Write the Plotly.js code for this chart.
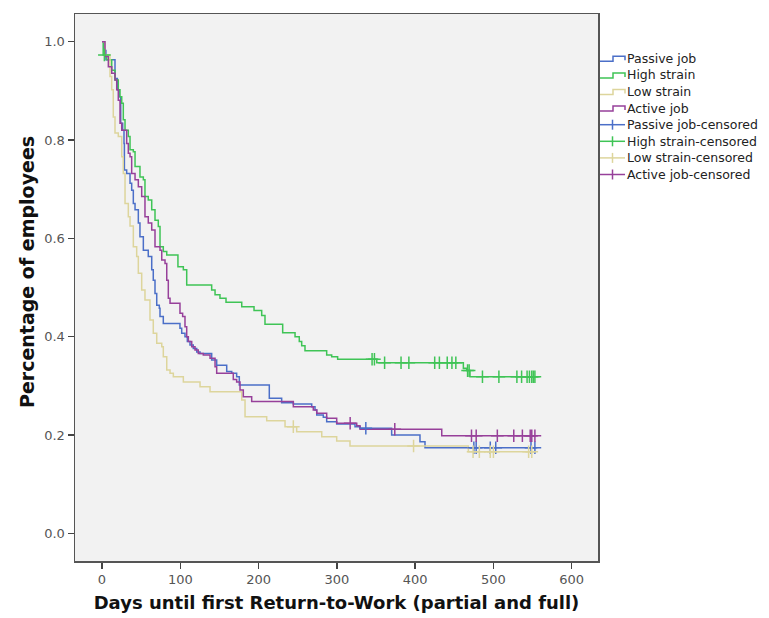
<!DOCTYPE html>
<html>
<head>
<meta charset="utf-8">
<script src="https://cdn.plot.ly/plotly-3.0.1.min.js"></script>
<style>
html,body{margin:0;padding:0;background:#ffffff;}
#chart{width:769px;height:618px;}
</style>
</head>
<body>
<div id="chart"></div>
<script>
// ---- Data ----
var groupNames = ["Passive job", "High strain", "Low strain", "Active job"];

var passiveDays = [0, 2.5, 5, 16.6, 19.6, 22, 23.9, 26.4, 28.1, 28.6, 31.5, 35.8, 37.9, 40, 42.2, 46.4, 48.5, 52.8, 59.1, 63.5, 65.5, 67.7, 69.9, 73.2, 74.1, 78.3, 99.6, 101.8, 106, 109, 112.4, 116.6, 121, 125.2, 140.1, 146.5, 159.3, 165.7, 172, 175.4, 213.7, 229.5, 244.4, 267.9, 272.1, 274.3, 282.7, 287, 299.8, 323.2, 329.6, 370, 406.2, 412.6, 553];
var passiveSurv = [1, 0.982, 0.963, 0.925, 0.902, 0.888, 0.834, 0.820, 0.793, 0.739, 0.732, 0.712, 0.698, 0.671, 0.658, 0.631, 0.603, 0.576, 0.563, 0.536, 0.515, 0.488, 0.464, 0.458, 0.441, 0.427, 0.417, 0.407, 0.400, 0.390, 0.383, 0.376, 0.369, 0.366, 0.3525, 0.342, 0.329, 0.3255, 0.3186, 0.3017, 0.2746, 0.2657, 0.263, 0.2575, 0.251, 0.2406, 0.236, 0.227, 0.2223, 0.2168, 0.2136, 0.200, 0.1863, 0.174, 0.174];
var passiveCensDays = [337, 475, 478, 496, 503, 548, 553];
var passiveCensSurv = [0.2136, 0.174, 0.174, 0.174, 0.174, 0.174, 0.174];

var highDays = [0, 1.5, 6, 12.4, 16.6, 20.8, 23, 25.2, 27.2, 29.4, 33.6, 35.8, 40, 42.2, 48.5, 52.8, 54.9, 59.1, 63.5, 67.7, 71.9, 74.1, 78.3, 82.7, 97, 103.9, 108.2, 140.1, 144.4, 150.7, 158.4, 178.5, 194.2, 204, 208.2, 230.8, 246.6, 252, 255.1, 259.3, 287, 293.4, 301, 351, 461.6, 465.9, 470.1, 553];
var highSurv = [1, 0.973, 0.963, 0.942, 0.922, 0.902, 0.888, 0.875, 0.841, 0.820, 0.807, 0.780, 0.776, 0.746, 0.725, 0.719, 0.685, 0.678, 0.658, 0.637, 0.624, 0.583, 0.573, 0.566, 0.542, 0.536, 0.505, 0.495, 0.485, 0.478, 0.470, 0.461, 0.453, 0.443, 0.425, 0.408, 0.400, 0.390, 0.3816, 0.3714, 0.3627, 0.359, 0.354, 0.347, 0.3356, 0.331, 0.3186, 0.3186];
var highCensDays = [3, 345, 348, 361, 382, 392, 425, 431, 441, 447, 452, 467, 469, 486, 507, 530, 536, 543, 546, 549, 551, 553];
var highCensSurv = [0.973, 0.354, 0.354, 0.347, 0.347, 0.347, 0.347, 0.347, 0.347, 0.347, 0.347, 0.331, 0.331, 0.3186, 0.3186, 0.3186, 0.3186, 0.3186, 0.3186, 0.3186, 0.3186, 0.3186];

var lowDays = [0, 3.8, 10.2, 12.4, 14.4, 16.6, 20.8, 25.2, 27.2, 29.4, 33.6, 35.8, 40, 44.3, 46.4, 50.7, 54.9, 61.3, 65.5, 69.9, 76.3, 78.3, 82.7, 86.9, 91.1, 103.9, 125.2, 138, 178.5, 182.7, 210.4, 233.8, 248.7, 280.7, 299.8, 316.8, 468, 553];
var lowSurv = [1, 0.973, 0.929, 0.902, 0.847, 0.814, 0.807, 0.766, 0.732, 0.671, 0.644, 0.625, 0.583, 0.563, 0.529, 0.495, 0.4746, 0.434, 0.407, 0.3865, 0.3796, 0.359, 0.332, 0.3255, 0.3186, 0.308, 0.298, 0.288, 0.271, 0.237, 0.229, 0.217, 0.2067, 0.1965, 0.188, 0.1776, 0.166, 0.166];
var lowCensDays = [244.4, 398, 474, 482, 496, 500, 545, 549];
var lowCensSurv = [0.217, 0.1776, 0.166, 0.166, 0.166, 0.166, 0.166, 0.166];

var activeDays = [0, 3.8, 8.1, 12.4, 16.6, 18.8, 20.8, 23, 25.2, 31.5, 33.6, 35.8, 37.9, 42.2, 46.4, 50.7, 54.9, 59.1, 63.5, 67.7, 74.1, 76.3, 80.5, 82.7, 84.7, 86.9, 99.6, 103, 106, 108.2, 110.3, 114.6, 118.8, 123, 129.4, 138, 144.4, 146.5, 167.7, 172, 176.3, 180.5, 191.2, 244.4, 269.9, 274.3, 287, 299.8, 325.4, 329.6, 434, 553];
var activeSurv = [1, 0.970, 0.949, 0.936, 0.922, 0.902, 0.881, 0.834, 0.820, 0.793, 0.773, 0.766, 0.732, 0.719, 0.705, 0.685, 0.644, 0.631, 0.617, 0.583, 0.576, 0.556, 0.549, 0.515, 0.478, 0.468, 0.4475, 0.441, 0.420, 0.400, 0.390, 0.3796, 0.373, 0.366, 0.3627, 0.356, 0.339, 0.3255, 0.313, 0.308, 0.2915, 0.278, 0.268, 0.2575, 0.251, 0.244, 0.234, 0.2238, 0.219, 0.2116, 0.1986, 0.1986];
var activeCensDays = [317, 374, 472, 478, 505, 526, 537, 547, 549, 553];
var activeCensSurv = [0.2238, 0.2116, 0.1986, 0.1986, 0.1986, 0.1986, 0.1986, 0.1986, 0.1986, 0.1986];

var xTickVals = [0, 100, 200, 300, 400, 500, 600];
var yTickVals = [0, 0.2, 0.4, 0.6, 0.8, 1.0];

// ---- Styles ----
var colors = ["#4b6fc8", "#3fc456", "#ddd59c", "#97409a"];
var lineDays = [passiveDays, highDays, lowDays, activeDays];
var lineSurv = [passiveSurv, highSurv, lowSurv, activeSurv];
var censDays = [passiveCensDays, highCensDays, lowCensDays, activeCensDays];
var censSurv = [passiveCensSurv, highCensSurv, lowCensSurv, activeCensSurv];

var traces = [];
for (var i = 0; i < 4; i++) {
  traces.push({
    type: "scatter", mode: "lines", name: groupNames[i],
    x: lineDays[i], y: lineSurv[i],
    line: {shape: "hv", color: colors[i], width: 1.5},
    hoverinfo: "skip"
  });
}
for (var j = 0; j < 4; j++) {
  traces.push({
    type: "scatter", mode: "markers", name: groupNames[j] + "-censored",
    x: censDays[j], y: censSurv[j],
    marker: {symbol: "cross-thin-open", size: 9, color: colors[j], line: {color: colors[j], width: 1.5}},
    hoverinfo: "skip"
  });
}

// ---- Layout geometry (pixels) ----
var W = 769, H = 618;
var M = {l: 75, r: 171, t: 14, b: 57};
var plotW = W - M.l - M.r, plotH = H - M.t - M.b;
function px2x(px) { return (px - M.l) / plotW; }
function px2y(py) { return (H - M.b - py) / plotH; }

var fontFam = "DejaVu Sans, Arial, sans-serif";

// Custom legend (SPSS style: step icons for lines, + for censored)
var legendTop = 58.3, legendStep = 16.6, iconL = 600, iconR = 625, textX = 626;
var annotations = [];
var shapes = [];
var legendLabels = [];
for (var a = 0; a < 4; a++) legendLabels.push({name: groupNames[a], color: colors[a], kind: "line"});
for (var b = 0; b < 4; b++) legendLabels.push({name: groupNames[b] + "-censored", color: colors[b], kind: "cens"});
legendLabels.forEach(function (e, k) {
  var yc = legendTop + k * legendStep;
  annotations.push({
    xref: "paper", yref: "paper", x: px2x(textX), y: px2y(yc),
    xanchor: "left", yanchor: "middle", showarrow: false, borderpad: 0,
    text: e.name, font: {family: fontFam, size: 12.5, color: "#222"}
  });
  if (e.kind === "line") {
    var p = "M" + px2x(iconL) + "," + px2y(yc + 3) +
            " L" + px2x(613) + "," + px2y(yc + 3) +
            " L" + px2x(613) + "," + px2y(yc - 2) +
            " L" + px2x(iconR) + "," + px2y(yc - 2) +
            " L" + px2x(iconR) + "," + px2y(yc + 2);
    shapes.push({type: "path", xref: "paper", yref: "paper", path: p,
                 line: {color: e.color, width: 1.5}});
  } else {
    shapes.push({type: "line", xref: "paper", yref: "paper",
                 x0: px2x(iconL), x1: px2x(iconR), y0: px2y(yc), y1: px2y(yc),
                 line: {color: e.color, width: 1.5}});
    shapes.push({type: "line", xref: "paper", yref: "paper",
                 x0: px2x(612.5), x1: px2x(612.5), y0: px2y(yc - 5), y1: px2y(yc + 5),
                 line: {color: e.color, width: 1.5}});
  }
});

// Y-axis title as rotated annotation (positioned like the reference)
annotations.push({
  xref: "paper", yref: "paper", x: px2x(27), y: px2y(272),
  xanchor: "center", yanchor: "middle", showarrow: false, textangle: -90,
  text: "Percentage of employees",
  font: {family: fontFam, size: 19, color: "#111", weight: "bold"}
});

var layout = {
  width: W, height: H,
  margin: {l: M.l, r: M.r, t: M.t, b: M.b, pad: 0, autoexpand: false},
  paper_bgcolor: "#ffffff",
  plot_bgcolor: "#f2f2f2",
  font: {family: fontFam, size: 12, color: "#333"},
  showlegend: false,
  annotations: annotations,
  shapes: shapes,
  xaxis: {
    range: [-34.5, 633.6], tickvals: xTickVals,
    ticks: "outside", ticklen: 6, tickwidth: 1.5, tickcolor: "#444",
    showline: true, mirror: true, linecolor: "#555", linewidth: 1.5,
    showgrid: false, zeroline: false,
    tickfont: {family: fontFam, size: 13, color: "#555"},
    title: {text: "Days until first Return-to-Work (partial and full)", standoff: 10,
            font: {family: fontFam, size: 18, color: "#111", weight: "bold"}}
  },
  yaxis: {
    range: [-0.0563, 1.0563], tickvals: yTickVals, tickformat: ".1f",
    ticks: "outside", ticklen: 6, tickwidth: 1.5, tickcolor: "#444",
    showline: true, mirror: true, linecolor: "#555", linewidth: 1.5,
    showgrid: false, zeroline: false,
    tickfont: {family: fontFam, size: 13, color: "#555"}
  }
};

Plotly.newPlot("chart", traces, layout, {displayModeBar: false, staticPlot: true});
</script>
</body>
</html>
